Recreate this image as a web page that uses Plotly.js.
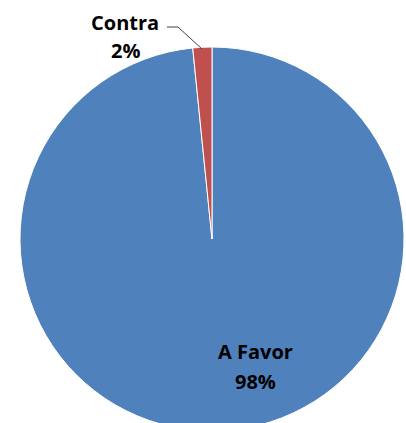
<!DOCTYPE html>
<html>
<head>
<meta charset="utf-8">
<script src="https://cdn.plot.ly/plotly-3.0.1.min.js"></script>
<style>
  html, body { margin: 0; padding: 0; overflow: hidden; background: #fff; }
  #chart { width: 406px; height: 440px; }
</style>
</head>
<body>
<div id="chart"></div>
<script>
// Data
var labels = ['A Favor', 'Contra'];
var values = [98.4, 1.6];
var colors = ['#4F81BD', '#C0504D'];

var W = 406, H = 440;
function px(x) { return x / W; }
function py(y) { return 1 - y / H; }

var total = values.reduce(function (a, b) { return a + b; }, 0);
var pctText = values.map(function (v) { return Math.round(v / total * 100) + '%'; });

// label positions (pixels) for each category
var labelPos = {
  'Contra': { name: [124.5, 22], pct: [125.5, 50] },
  'A Favor': { name: [255.5, 351], pct: [255.5, 381] }
};

var font = { family: '"Open Sans", sans-serif', size: 20, color: '#000' };
var annotations = [];
labels.forEach(function (lab, i) {
  var p = labelPos[lab];
  annotations.push({ text: '<b>' + lab + '</b>', x: px(p.name[0]), y: py(p.name[1]), xref: 'paper', yref: 'paper',
    showarrow: false, xanchor: 'center', yanchor: 'middle', font: font });
  annotations.push({ text: '<b>' + pctText[i] + '</b>', x: px(p.pct[0]), y: py(p.pct[1]), xref: 'paper', yref: 'paper',
    showarrow: false, xanchor: 'center', yanchor: 'middle', font: font });
});

var data = [{
  type: 'pie',
  labels: labels,
  values: values,
  sort: false,
  direction: 'clockwise',
  rotation: 0,
  textinfo: 'none',
  hoverinfo: 'label+percent',
  marker: { colors: colors, line: { color: '#ffffff', width: 1 } },
  domain: { x: [20 / W, 404 / W], y: [9 / H, 393 / H] },
  showlegend: false
}];

var layout = {
  width: W,
  height: H,
  margin: { l: 0, r: 0, t: 0, b: 0 },
  paper_bgcolor: '#ffffff',
  showlegend: false,
  annotations: annotations,
  shapes: [{
    type: 'path',
    xref: 'paper', yref: 'paper',
    path: 'M ' + px(167) + ' ' + py(27) + ' L ' + px(178) + ' ' + py(27) + ' L ' + px(202) + ' ' + py(49),
    line: { color: '#404040', width: 1 }
  }]
};

Plotly.newPlot('chart', data, layout, { displayModeBar: false, staticPlot: true });
</script>
</body>
</html>
